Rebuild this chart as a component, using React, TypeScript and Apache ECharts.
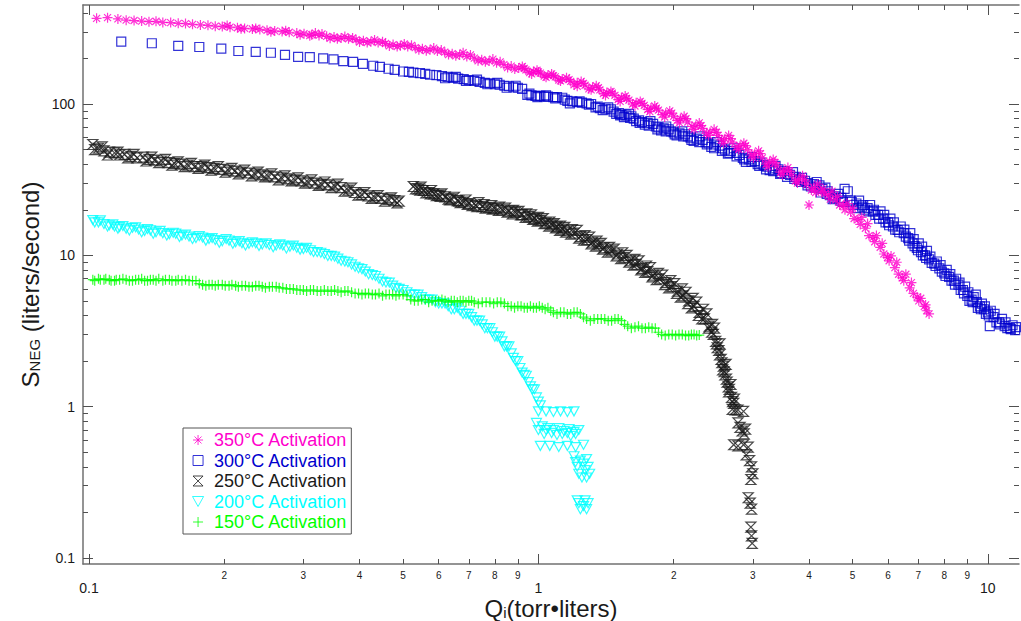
import React, { useEffect, useRef } from 'react';
import * as echarts from 'echarts';

const X_MIN = 0.097;
const X_MAX = 11.73;
const Y_MIN = 0.0912;
const Y_MAX = 451;

const xMajorTicks = [0.1, 1, 10];
const xMinorTicks = [0.2, 0.3, 0.4, 0.5, 0.6, 0.7, 0.8, 0.9, 2, 3, 4, 5, 6, 7, 8, 9];
const yMajorTicks = [0.1, 1, 10, 100];
const yMinorTicks = [0.2, 0.3, 0.4, 0.5, 0.6, 0.7, 0.8, 0.9, 2, 3, 4, 5, 6, 7, 8, 9, 20, 30, 40, 50, 60, 70, 80, 90, 200, 300, 400];

const seriesNames = ['350°C Activation', '300°C Activation', '250°C Activation', '200°C Activation', '150°C Activation'];
const seriesColors = ['#FF00CC', '#0000CD', '#1a1a1a', '#00FFFF', '#00FF00'];

const s350: [number, number][] = [
  [0.104, 368], [0.110, 372], [0.116, 365], [0.121, 358], [0.126, 356], [0.131, 353], [0.136, 350], [0.141, 352], [0.146, 346], [0.152, 345],
  [0.158, 341], [0.164, 340], [0.170, 336], [0.177, 333], [0.184, 331], [0.191, 327], [0.198, 325], [0.206, 322], [0.214, 319], [0.222, 316],
  [0.231, 313], [0.240, 311], [0.249, 307], [0.259, 304], [0.269, 301], [0.279, 298], [0.290, 294], [0.301, 291], [0.313, 287], [0.325, 284],
  [0.338, 280], [0.351, 277], [0.364, 273], [0.378, 270], [0.393, 266], [0.408, 262], [0.424, 258], [0.440, 255], [0.457, 251], [0.475, 247],
  [0.493, 243], [0.512, 240], [0.532, 236], [0.552, 232], [0.574, 228], [0.596, 224], [0.619, 220], [0.643, 215], [0.668, 211], [0.693, 206],
  [0.720, 201], [0.748, 196], [0.777, 192], [0.807, 187], [0.838, 182], [0.870, 178], [0.904, 173], [0.938, 168], [0.975, 164], [1.01, 160],
  [1.05, 155], [1.09, 151], [1.13, 146], [1.18, 141], [1.22, 138], [1.27, 133], [1.32, 129], [1.37, 124], [1.42, 119], [1.48, 114],
  [1.53, 110], [1.59, 106], [1.65, 102], [1.72, 98], [1.78, 94], [1.85, 91], [1.92, 87], [2.00, 83], [2.07, 80], [2.15, 76],
  [2.24, 72], [2.32, 69], [2.41, 65], [2.51, 62], [2.60, 59], [2.70, 56], [2.81, 53], [2.92, 50], [3.03, 47], [3.15, 44],
  [3.27, 41.5], [3.39, 39], [3.52, 36.5], [3.66, 34], [3.80, 32], [3.95, 29.5], [4.00, 21.5], [4.10, 28], [4.26, 26.5], [4.42, 25],
  [4.59, 23.2], [4.77, 21.3], [4.95, 19.3], [5.14, 17.2], [5.34, 15.1], [5.55, 13.1], [5.76, 11.3], [5.98, 9.7], [6.21, 8.3], [6.45, 7.1],
  [6.70, 6.1], [6.96, 5.3], [7.22, 4.6], [7.40, 4.1],
  [0.203, 330], [0.218, 314], [0.235, 316], [0.254, 300], [0.274, 305], [0.295, 287], [0.319, 294], [0.344, 272], [0.371, 279], [0.400, 257],
  [0.432, 265], [0.466, 242], [0.503, 249], [0.542, 228], [0.585, 234], [0.631, 212], [0.680, 218], [0.734, 193], [0.792, 198], [0.854, 174],
  [0.921, 177], [0.956, 161], [0.993, 167], [1.03, 153], [1.07, 158], [1.11, 144], [1.155, 149], [1.20, 134], [1.245, 141], [1.295, 126],
  [1.345, 132], [1.395, 117], [1.45, 121], [1.505, 107], [1.56, 113], [1.62, 100], [1.685, 104], [1.75, 92], [1.815, 97], [1.885, 85],
  [1.96, 90], [2.035, 78], [2.11, 83], [2.195, 71], [2.28, 75], [2.365, 64], [2.46, 68], [2.555, 58], [2.65, 62], [2.755, 52],
  [2.865, 55], [2.975, 46], [3.09, 49], [3.21, 40], [3.33, 43], [3.455, 35.5], [3.59, 38], [3.73, 31], [3.87, 33.5], [4.05, 27],
  [4.18, 29.5], [4.34, 25.5], [4.50, 26.5], [4.68, 21.5], [4.86, 22], [5.04, 17.5], [5.24, 17.8], [5.44, 13.5], [5.65, 13.5], [5.87, 10.2],
  [6.09, 9.9], [6.33, 7.5], [6.57, 7.5], [6.83, 5.6], [7.09, 5.2], [7.31, 4.3],
  [0.310, 283], [0.330, 290], [0.357, 270], [0.386, 273], [0.416, 255], [0.450, 258], [0.485, 240], [0.522, 244], [0.563, 225], [0.608, 227],
  [0.655, 208], [0.706, 211], [0.762, 190], [0.822, 190], [0.886, 170], [0.930, 172], [0.966, 158], [1.00, 163], [1.04, 150], [1.08, 154],
  [1.12, 142], [1.17, 145], [1.22, 131], [1.26, 137], [1.31, 124], [1.36, 128], [1.41, 114], [1.46, 118], [1.52, 104], [1.57, 109],
  [1.64, 97], [1.70, 101], [1.77, 89], [1.83, 94], [1.91, 82], [1.98, 87], [2.06, 75], [2.13, 80], [2.22, 68], [2.30, 72],
  [2.39, 62], [2.49, 65], [2.58, 55], [2.68, 59], [2.79, 50], [2.89, 53], [3.01, 44], [3.12, 47], [3.24, 38.5], [3.36, 41],
  [3.49, 34], [3.62, 36], [3.77, 30], [3.91, 31.5], [4.14, 26], [4.30, 27.5], [4.46, 23.5], [4.63, 24.5], [4.81, 20], [5.00, 20.5],
  [5.20, 16], [5.40, 16.2], [5.60, 12.3], [5.82, 12], [6.03, 9.2], [6.27, 9.0], [6.50, 6.8], [6.76, 6.6], [7.02, 5.0], [7.27, 4.7],
];

const s300: [number, number][] = [
  [0.118, 258], [0.138, 252], [0.158, 242], [0.176, 238], [0.197, 232], [0.215, 224], [0.235, 221], [0.254, 218], [0.273, 211], [0.292, 205],
  [0.310, 204], [0.332, 200], [0.350, 197], [0.368, 192], [0.387, 190], [0.407, 184], [0.429, 179], [0.444, 176], [0.464, 171], [0.479, 168],
  [0.500, 164], [0.515, 163], [0.527, 161], [0.545, 160], [0.560, 158], [0.574, 156], [0.593, 155], [0.610, 153], [0.628, 151], [0.645, 149],
  [0.663, 147], [0.682, 146], [0.700, 144], [0.720, 142], [0.740, 140], [0.760, 138], [0.780, 137], [0.800, 135], [0.820, 134], [0.840, 132],
  [0.860, 131], [0.880, 129], [0.900, 128], [0.920, 126], [0.945, 115], [0.965, 114], [0.985, 113], [1.01, 113], [1.03, 112], [1.05, 112],
  [1.08, 111], [1.10, 111], [1.13, 110], [1.16, 105], [1.19, 104], [1.22, 103], [1.25, 102], [1.28, 101], [1.31, 100], [1.34, 95],
  [1.37, 94], [1.41, 93], [1.45, 92], [1.49, 86], [1.53, 85], [1.57, 84], [1.61, 83], [1.65, 77], [1.70, 76], [1.75, 75],
  [1.80, 74], [1.85, 70], [1.90, 69], [1.95, 68], [2.00, 65], [2.06, 64], [2.12, 63], [2.18, 60], [2.25, 59], [2.32, 58],
  [2.39, 55], [2.46, 54], [2.53, 53], [2.60, 50], [2.68, 49], [2.76, 47.5], [2.85, 44], [2.94, 43], [3.03, 42], [3.12, 41],
  [3.22, 38.5], [3.32, 37.5], [3.42, 37], [3.52, 36], [3.63, 34], [3.74, 33], [3.86, 32.5], [3.98, 30], [4.10, 29.5], [4.22, 29],
  [4.35, 28], [4.45, 25], [4.58, 24.5], [4.72, 24], [4.80, 27.5], [4.88, 26.5], [4.95, 23], [5.10, 22], [5.25, 21], [5.40, 20.5],
  [5.55, 19.5], [5.70, 18.5], [5.85, 17.5], [6.00, 16.5], [6.15, 15.5], [6.30, 14.7], [6.50, 14], [6.65, 13], [6.80, 12], [6.95, 11.2],
  [7.10, 10.5], [7.25, 10], [7.40, 9.4], [7.60, 8.8], [7.80, 8.2], [8.00, 7.6], [8.20, 7.2], [8.40, 6.8], [8.60, 6.4], [8.80, 5.9],
  [9.00, 5.4], [9.20, 5.1], [9.40, 5.5], [9.60, 4.6], [9.80, 4.4], [10.0, 4.2], [10.1, 3.4], [10.3, 3.9], [10.6, 3.6], [10.9, 3.4],
  [11.2, 3.3], [11.5, 3.2],
  [0.620, 148], [0.655, 151], [0.690, 142], [0.730, 145], [0.770, 135], [0.810, 138], [0.850, 128], [0.890, 132], [0.955, 117], [0.995, 111],
  [1.04, 114], [1.09, 109], [1.145, 107], [1.175, 101], [1.235, 104], [1.295, 99], [1.355, 96], [1.39, 91], [1.43, 95], [1.47, 89],
  [1.51, 87], [1.55, 82], [1.59, 86], [1.63, 80], [1.675, 78], [1.725, 73], [1.775, 77], [1.825, 71], [1.875, 67], [1.925, 71],
  [1.975, 66], [2.03, 62], [2.09, 66], [2.15, 61], [2.215, 57], [2.285, 61], [2.355, 56], [2.425, 52], [2.495, 56], [2.565, 51],
  [2.64, 47], [2.72, 51], [2.80, 46], [2.895, 41.5], [2.985, 44.5], [3.075, 40], [3.17, 39.5], [3.27, 36.5], [3.37, 39], [3.47, 35],
  [3.575, 33], [3.685, 35.5], [3.80, 31.5], [3.92, 31], [4.04, 28.5], [4.16, 30.5], [4.285, 27.5], [4.40, 26.5], [4.515, 23.5], [4.65, 25.5],
  [4.76, 22.5], [5.02, 21.5], [5.17, 23], [5.32, 20], [5.47, 21.5], [5.62, 18.5], [5.77, 19.5], [5.92, 16.5], [6.07, 17.5], [6.22, 14.8],
  [6.40, 15.5], [6.57, 13.3], [6.72, 14], [6.87, 11.5], [7.02, 12], [7.17, 10], [7.32, 10.7], [7.50, 8.9], [7.70, 9.1], [7.90, 7.8],
  [8.10, 8.0], [8.30, 6.8], [8.50, 7.0], [8.70, 5.9], [8.90, 6.2], [9.10, 5.0], [9.30, 5.3], [9.50, 4.5], [9.70, 4.8], [9.90, 4.1],
  [10.15, 4.3], [10.45, 3.6], [10.75, 3.8], [11.05, 3.3], [11.35, 3.45],
  [1.52, 84], [1.60, 81], [1.68, 75], [1.76, 72], [1.84, 68], [1.92, 66], [2.01, 63], [2.10, 61], [2.19, 58], [2.28, 56],
  [2.37, 54], [2.46, 51], [2.56, 49], [2.66, 47.5], [2.76, 45], [2.87, 43], [2.98, 41.5], [3.10, 39], [3.21, 37], [3.33, 36],
  [3.45, 34.5], [3.58, 34.5], [3.71, 32], [3.84, 30.5], [3.97, 29], [4.12, 28], [4.25, 26], [4.38, 25.5], [4.55, 24], [4.70, 23],
  [4.98, 22.5], [5.13, 20.5], [5.28, 21.5], [5.43, 19.5], [5.58, 20], [5.73, 17.5], [5.88, 18.5], [6.03, 15.8], [6.18, 16.5], [6.35, 14.2],
  [6.52, 14.8], [6.68, 12.5], [6.84, 12.8], [6.99, 10.8], [7.14, 11.4], [7.29, 9.6], [7.45, 9.8], [7.65, 8.5], [7.85, 8.6], [8.05, 7.3],
  [8.25, 7.5], [8.45, 6.4], [8.65, 6.6], [8.85, 5.6], [9.05, 5.7], [9.25, 4.9], [9.45, 4.9], [9.65, 4.4], [9.85, 4.6], [10.05, 4.0],
  [10.35, 4.1], [10.65, 3.5], [10.95, 3.6], [11.25, 3.25], [11.55, 3.35],
];

const s250: [number, number][] = [
  [0.102, 54], [0.105, 51], [0.108, 49], [0.111, 48], [0.114, 47.5], [0.117, 46], [0.120, 46.5], [0.124, 45], [0.128, 44], [0.132, 44.5],
  [0.136, 43], [0.140, 42.5], [0.145, 42], [0.150, 41], [0.155, 40.5], [0.160, 40], [0.166, 39.5], [0.172, 38.5], [0.178, 38.5], [0.184, 38],
  [0.190, 37.5], [0.197, 37], [0.204, 36.5], [0.211, 36], [0.218, 35.5], [0.226, 35], [0.234, 34.5], [0.242, 34], [0.250, 33.5], [0.259, 33],
  [0.268, 32.5], [0.277, 32], [0.287, 31.5], [0.297, 31], [0.307, 30.5], [0.318, 30], [0.329, 29.5], [0.340, 29.2], [0.352, 28.7], [0.364, 28],
  [0.377, 27], [0.390, 26], [0.404, 25.3], [0.418, 24.7], [0.432, 24.2], [0.447, 23.8], [0.463, 23.4], [0.479, 23], [0.490, 22.8],
  [0.527, 28.5], [0.540, 27.5], [0.555, 26.8], [0.570, 26], [0.585, 25.5], [0.600, 25], [0.620, 24.3], [0.640, 23.6], [0.660, 23], [0.680, 22.5],
  [0.700, 22], [0.725, 21.5], [0.750, 21], [0.775, 20.7], [0.800, 20.4], [0.830, 20], [0.860, 19.6], [0.890, 19.2], [0.920, 18.6], [0.950, 18],
  [0.980, 17.5], [1.01, 17], [1.04, 16.4], [1.07, 15.9], [1.10, 15.4], [1.13, 14.9], [1.16, 14.5], [1.20, 14], [1.24, 13.3], [1.28, 12.7],
  [1.32, 12.2], [1.36, 11.7], [1.40, 11.2], [1.45, 10.7], [1.50, 10.2], [1.55, 9.7], [1.60, 9.2], [1.65, 8.7], [1.70, 8.2], [1.75, 7.8],
  [1.80, 7.4], [1.86, 7.0], [1.92, 6.6], [1.98, 6.2], [2.04, 5.8], [2.10, 5.4], [2.16, 5.0], [2.22, 4.6], [2.28, 4.2], [2.34, 3.8],
  [2.40, 3.4], [2.45, 3.0], [2.48, 2.7], [2.52, 2.35], [2.55, 2.05], [2.58, 1.85], [2.60, 1.62], [2.63, 1.45], [2.66, 1.3], [2.69, 1.15],
  [2.72, 1.05], [2.74, 0.95], [2.70, 0.96], [2.78, 0.95], [2.86, 0.93], [2.78, 0.78], [2.81, 0.73], [2.84, 0.69], [2.87, 0.66], [2.89, 0.71],
  [2.72, 0.56], [2.78, 0.55], [2.86, 0.56], [2.93, 0.54], [2.90, 0.48], [2.95, 0.44], [2.98, 0.40], [3.00, 0.36], [2.97, 0.33], [2.93, 0.25],
  [2.96, 0.23], [2.98, 0.21], [2.97, 0.16], [2.98, 0.14], [2.99, 0.125],
  [0.103, 50], [0.107, 52], [0.110, 46], [0.116, 48], [0.122, 44], [0.126, 46.5], [0.134, 42], [0.138, 44.5], [0.143, 41], [0.148, 43],
  [0.153, 39.5], [0.158, 41.5], [0.163, 38.5], [0.169, 40.5], [0.175, 37.5], [0.181, 39.5], [0.187, 36.5], [0.194, 38.5], [0.201, 35.5], [0.208, 37.5],
  [0.215, 34.5], [0.222, 36.5], [0.230, 33.5], [0.238, 35.5], [0.246, 33], [0.255, 34.5], [0.264, 31.5], [0.273, 33.5], [0.282, 31], [0.292, 32.5],
  [0.302, 30], [0.313, 31.5], [0.324, 29], [0.335, 30.5], [0.346, 28], [0.358, 29.5], [0.370, 26.5], [0.384, 27.8], [0.397, 25], [0.411, 26],
  [0.425, 23.8], [0.440, 24.8], [0.455, 22.8], [0.471, 24], [0.485, 22.2],
  [0.533, 27.5], [0.548, 28.2], [0.562, 25.8], [0.578, 26.8], [0.593, 24.8], [0.610, 25.5], [0.630, 23.5], [0.650, 24.2], [0.670, 22.3], [0.690, 23.2],
  [0.712, 21.3], [0.737, 22.3], [0.762, 20.5], [0.787, 21.3], [0.815, 19.8], [0.845, 20.5], [0.875, 18.8], [0.905, 19.5], [0.935, 17.8], [0.965, 18.5],
  [0.995, 16.8], [1.025, 17.5], [1.055, 15.6], [1.085, 16.2], [1.115, 14.6], [1.145, 15.3], [1.18, 13.8], [1.22, 14.6], [1.26, 12.6], [1.30, 13.2],
  [1.34, 11.5], [1.38, 12.0], [1.425, 10.5], [1.475, 11.0], [1.525, 9.5], [1.575, 10.0], [1.625, 8.6], [1.675, 9.2], [1.725, 7.7], [1.775, 8.3],
  [1.83, 6.9], [1.89, 7.4], [1.95, 6.1], [2.01, 6.5], [2.07, 5.3], [2.13, 5.7], [2.19, 4.5], [2.25, 4.9], [2.31, 3.8], [2.37, 4.1],
  [2.43, 3.1], [2.465, 3.3], [2.50, 2.45], [2.535, 2.6], [2.57, 1.75], [2.615, 1.9], [2.645, 1.35], [2.68, 1.4], [2.705, 1.08], [2.73, 1.12],
  [0.545, 27], [0.575, 25.5], [0.605, 24.5], [0.635, 23.2], [0.665, 22.8], [0.695, 21.7], [0.730, 21], [0.757, 21.6], [0.790, 20.2], [0.820, 20.8],
  [0.852, 19.3], [0.880, 19.8], [0.913, 18.5], [0.942, 18.8], [0.972, 17.3], [1.00, 17.8], [1.03, 16.2], [1.06, 16.6], [1.092, 15.2], [1.12, 15.6],
  [1.15, 14.2], [1.19, 14.8], [1.23, 13.0], [1.27, 13.5], [1.31, 11.9], [1.35, 12.4], [1.39, 11.0], [1.44, 11.3], [1.49, 9.9], [1.54, 10.4],
  [1.59, 9.0], [1.64, 9.4], [1.69, 8.0], [1.74, 8.5], [1.79, 7.2], [1.85, 7.6], [1.91, 6.4], [1.97, 6.8], [2.03, 5.6], [2.09, 6.0],
  [2.15, 4.8], [2.21, 5.2], [2.27, 4.0], [2.33, 4.4], [2.39, 3.3], [2.44, 3.5], [2.49, 2.6], [2.53, 2.2], [2.56, 1.95], [2.59, 1.7],
  [2.62, 1.52], [2.65, 1.25],
];

const s200: [number, number][] = [
  [0.102, 17.1], [0.105, 16.5], [0.108, 16.1], [0.111, 15.8], [0.114, 15.5], [0.117, 15.4], [0.121, 15.0], [0.125, 15.2], [0.129, 14.8], [0.133, 14.5],
  [0.137, 14.6], [0.141, 14.2], [0.146, 14.0], [0.151, 13.8], [0.156, 13.9], [0.161, 13.5], [0.167, 13.3], [0.173, 13.0], [0.179, 13.1], [0.185, 12.8],
  [0.191, 12.6], [0.198, 12.4], [0.205, 12.5], [0.212, 12.2], [0.219, 12.0], [0.227, 11.9], [0.235, 12.0], [0.243, 11.8], [0.252, 11.7], [0.261, 11.6],
  [0.270, 11.6], [0.280, 11.4], [0.290, 11.2], [0.300, 11.0], [0.311, 10.8], [0.322, 10.5], [0.334, 10.2], [0.346, 9.9], [0.358, 9.5], [0.371, 9.1],
  [0.384, 8.7], [0.398, 8.2], [0.412, 7.8], [0.427, 7.4], [0.442, 7.0], [0.458, 6.6], [0.474, 6.3], [0.490, 6.0], [0.510, 5.7], [0.530, 5.5],
  [0.550, 5.3], [0.570, 5.1], [0.590, 4.9], [0.610, 4.8], [0.630, 4.6], [0.650, 4.4], [0.670, 4.3], [0.690, 4.1], [0.710, 3.9], [0.730, 3.7],
  [0.750, 3.5], [0.770, 3.3], [0.790, 3.1], [0.810, 2.9], [0.830, 2.7], [0.850, 2.5], [0.870, 2.25], [0.890, 2.0], [0.910, 1.8], [0.930, 1.62],
  [0.950, 1.45], [0.970, 1.3], [0.990, 1.15], [1.01, 1.02], [1.00, 0.93], [1.04, 0.93], [1.08, 0.92], [1.12, 0.93], [1.16, 0.92], [1.20, 0.93],
  [0.99, 0.78], [1.02, 0.74], [1.05, 0.72], [1.08, 0.70], [1.11, 0.72], [1.14, 0.69], [1.17, 0.71], [1.20, 0.68], [1.23, 0.70], [1.03, 0.66],
  [1.10, 0.65], [1.18, 0.64], [1.01, 0.55], [1.06, 0.55], [1.11, 0.54], [1.16, 0.55], [1.21, 0.54], [1.26, 0.56], [1.20, 0.47], [1.24, 0.44],
  [1.28, 0.45], [1.22, 0.40], [1.27, 0.38], [1.30, 0.36], [1.25, 0.34], [1.22, 0.24], [1.26, 0.22], [1.29, 0.23], [1.24, 0.21],
  [0.103, 16.5], [0.106, 17.0], [0.110, 15.5], [0.113, 16.0], [0.116, 15.0], [0.119, 15.6], [0.123, 14.6], [0.127, 15.3], [0.131, 14.2], [0.135, 14.9],
  [0.139, 13.9], [0.144, 14.5], [0.149, 13.5], [0.154, 14.1], [0.159, 13.2], [0.164, 13.7], [0.170, 12.8], [0.176, 13.4], [0.182, 12.5], [0.188, 13.0],
  [0.195, 12.1], [0.202, 12.8], [0.209, 11.9], [0.216, 12.4], [0.223, 11.6], [0.231, 12.2], [0.239, 11.5], [0.248, 12.0], [0.257, 11.3], [0.266, 11.8],
  [0.275, 11.1], [0.285, 11.6], [0.295, 10.9], [0.305, 11.2], [0.316, 10.5], [0.328, 10.4], [0.340, 9.9], [0.352, 9.8], [0.364, 9.2], [0.377, 9.0],
  [0.391, 8.4], [0.405, 8.1], [0.419, 7.5], [0.434, 7.3], [0.450, 6.7], [0.466, 6.6], [0.482, 6.1], [0.500, 5.9], [0.520, 5.5], [0.540, 5.5],
  [0.560, 5.1], [0.580, 5.1], [0.600, 4.8], [0.620, 4.8], [0.640, 4.4], [0.660, 4.5], [0.680, 4.1], [0.700, 4.1], [0.720, 3.7], [0.740, 3.7],
  [0.760, 3.3], [0.780, 3.3], [0.800, 2.9], [0.820, 2.9], [0.840, 2.5], [0.860, 2.5], [0.880, 2.1], [0.900, 2.0], [0.920, 1.68], [0.940, 1.6],
  [0.960, 1.36], [0.980, 1.3], [1.00, 1.08], [1.00, 0.70], [1.04, 0.70], [1.07, 0.67], [1.13, 0.66], [1.16, 0.67], [1.21, 0.66], [1.21, 0.43],
  [1.26, 0.42], [1.29, 0.40], [1.23, 0.36], [1.28, 0.34], [1.23, 0.23], [1.27, 0.24], [1.28, 0.21],
];

const s150: [number, number][] = [
  [0.102, 6.9], [0.105, 7.0], [0.108, 6.9], [0.111, 6.9], [0.114, 6.8], [0.117, 6.9], [0.121, 6.9], [0.125, 6.8], [0.129, 6.9], [0.133, 6.8],
  [0.137, 6.9], [0.141, 6.8], [0.146, 6.8], [0.151, 6.9], [0.156, 6.8], [0.161, 6.8], [0.167, 6.8], [0.173, 6.8], [0.179, 6.4], [0.185, 6.4],
  [0.191, 6.3], [0.198, 6.4], [0.205, 6.3], [0.212, 6.3], [0.219, 6.3], [0.227, 6.2], [0.235, 6.3], [0.243, 6.2], [0.252, 6.2], [0.261, 6.2],
  [0.270, 6.1], [0.280, 6.0], [0.290, 5.9], [0.300, 5.9], [0.311, 5.9], [0.322, 5.8], [0.334, 5.9], [0.346, 5.8], [0.358, 5.8], [0.371, 5.8],
  [0.384, 5.7], [0.398, 5.6], [0.412, 5.6], [0.427, 5.5], [0.442, 5.6], [0.458, 5.5], [0.474, 5.5], [0.490, 5.5], [0.510, 5.4], [0.520, 5.1],
  [0.540, 5.0], [0.560, 5.1], [0.580, 5.0], [0.600, 5.0], [0.620, 5.0], [0.640, 5.0], [0.660, 4.9], [0.680, 5.0], [0.700, 5.0], [0.720, 4.9],
  [0.750, 4.9], [0.780, 4.9], [0.810, 4.9], [0.840, 4.8], [0.870, 4.6], [0.900, 4.6], [0.930, 4.5], [0.960, 4.6], [0.990, 4.5], [1.02, 4.5],
  [1.05, 4.5], [1.08, 4.2], [1.12, 4.2], [1.16, 4.1], [1.20, 4.2], [1.24, 4.1], [1.28, 3.8], [1.33, 3.8], [1.38, 3.8], [1.43, 3.7],
  [1.48, 3.8], [1.53, 3.7], [1.58, 3.4], [1.64, 3.35], [1.70, 3.3], [1.76, 3.35], [1.82, 3.3], [1.88, 3.0], [1.95, 3.0], [2.02, 2.95],
  [2.09, 3.0], [2.16, 2.95], [2.22, 3.0], [2.28, 2.97],
  [0.103, 6.8], [0.106, 6.9], [0.109, 7.0], [0.112, 6.8], [0.115, 6.9], [0.119, 7.0], [0.123, 6.8], [0.127, 6.9], [0.131, 7.0], [0.135, 6.8],
  [0.139, 6.9], [0.143, 7.0], [0.148, 6.9], [0.153, 6.8], [0.158, 6.9], [0.164, 6.9], [0.170, 6.8], [0.176, 6.5], [0.182, 6.3], [0.188, 6.4],
  [0.194, 6.4], [0.201, 6.3], [0.208, 6.4], [0.215, 6.2], [0.223, 6.3], [0.231, 6.2], [0.239, 6.3], [0.247, 6.1], [0.256, 6.2], [0.265, 6.1],
  [0.275, 6.0], [0.285, 6.0], [0.295, 5.9], [0.305, 5.8], [0.316, 5.9], [0.328, 5.8], [0.340, 5.8], [0.352, 5.9], [0.364, 5.7], [0.377, 5.8],
  [0.391, 5.6], [0.405, 5.5], [0.419, 5.6], [0.434, 5.5], [0.450, 5.4], [0.466, 5.5], [0.482, 5.4], [0.500, 5.5], [0.530, 5.0], [0.550, 5.1],
  [0.570, 4.9], [0.590, 5.0], [0.610, 5.1], [0.630, 4.9], [0.650, 5.0], [0.670, 5.0], [0.690, 4.9], [0.710, 5.0], [0.735, 4.8], [0.765, 4.9],
  [0.795, 4.8], [0.825, 4.9], [0.855, 4.6], [0.885, 4.5], [0.915, 4.6], [0.945, 4.5], [0.975, 4.5], [1.005, 4.6], [1.035, 4.4], [1.065, 4.3],
  [1.10, 4.1], [1.14, 4.2], [1.18, 4.1], [1.22, 4.2], [1.26, 3.9], [1.305, 3.7], [1.355, 3.8], [1.405, 3.8], [1.455, 3.7], [1.505, 3.8],
  [1.555, 3.5], [1.61, 3.3], [1.67, 3.4], [1.73, 3.3], [1.79, 3.3], [1.85, 3.1], [1.915, 2.95], [1.985, 3.0], [2.055, 3.0], [2.125, 2.95],
  [2.19, 3.0], [2.25, 2.95],
];

const FONT = '"Liberation Sans", Arial, Helvetica, sans-serif';

const SYM_STAR = 'path://M5,0L5,10M0,5L10,5M1.5,1.5L8.5,8.5M8.5,1.5L1.5,8.5';
const SYM_SQUARE = 'path://M0,0L10,0L10,10L0,10Z';
const SYM_HOURGLASS = 'path://M0,0L10,0L0,10L10,10Z';
const SYM_TRIANGLE = 'path://M0,0L10,0L5,9Z';
const SYM_PLUS = 'path://M5,0L5,10M0,5L10,5';

const symbols = [SYM_STAR, SYM_SQUARE, SYM_HOURGLASS, SYM_TRIANGLE, SYM_PLUS];
const symbolSizes = [10, 9, 10, 10, 10];
const seriesData = [s350, s300, s250, s200, s150];

const axisLineStyle = { color: '#707070', width: 1.5 };
const tickLineStyle = { color: '#505050', width: 1 };

function makeAxis(kind: 'x' | 'y', position: string, ticks: number[], len: number, showLine: boolean, label: any, extra: any = {}) {
  return {
    type: 'log',
    gridIndex: 0,
    position,
    min: kind === 'x' ? X_MIN : Y_MIN,
    max: kind === 'x' ? X_MAX : Y_MAX,
    axisLine: { show: showLine, onZero: false, lineStyle: axisLineStyle },
    axisTick: { show: true, inside: true, length: len, customValues: ticks, lineStyle: tickLineStyle },
    axisLabel: label ? { show: true, customValues: ticks, ...label } : { show: false },
    splitLine: { show: false },
    minorTick: { show: false },
    minorSplitLine: { show: false },
    ...extra,
  };
}

const fmtMajor = (v: number) => (v < 1 ? String(Math.round(v * 10) / 10) : String(Math.round(v)));
const fmtMinor = (v: number) => String(Math.round(v < 1 ? v * 10 : v));

const nameRich = {
  m: { fontSize: 24, fontFamily: FONT, color: '#1a1a1a', lineHeight: 24 },
  s: { fontSize: 15, fontFamily: FONT, color: '#1a1a1a', lineHeight: 14, verticalAlign: 'bottom' },
};

function buildOption() {
  const series = [1, 0, 2, 3, 4].map((i) => ({
    type: 'scatter',
    name: seriesNames[i],
    data: seriesData[i],
    xAxisIndex: 0,
    yAxisIndex: 0,
    symbol: symbols[i],
    symbolSize: symbolSizes[i],
    symbolKeepAspect: true,
    silent: true,
    itemStyle: { color: 'rgba(0,0,0,0)', borderColor: seriesColors[i], borderWidth: 1.2 },
    emphasis: { disabled: true },
  }));

  return {
    animation: false,
    backgroundColor: '#ffffff',
    textStyle: { fontFamily: FONT },
    grid: { left: 83, right: 2, top: 5, bottom: 57, containLabel: false, outerBoundsMode: 'none' },
    xAxis: [
      makeAxis('x', 'bottom', xMajorTicks, 10, true,
        { formatter: fmtMajor, fontSize: 14, lineHeight: 14, color: '#1a1a1a', fontFamily: FONT, margin: 17 },
        {
          name: '{m|Q}{s|i}{m|(torr•liters)}',
          nameLocation: 'middle',
          nameGap: 32,
          nameMoveOverlap: false,
          nameTextStyle: { fontFamily: FONT, color: '#1a1a1a', rich: nameRich },
        }),
      makeAxis('x', 'bottom', xMinorTicks, 5, false,
        { formatter: fmtMinor, fontSize: 10, color: '#1a1a1a', fontFamily: FONT, margin: 6 }),
      makeAxis('x', 'top', xMajorTicks, 10, true, null),
      makeAxis('x', 'top', xMinorTicks, 5, false, null),
    ],
    yAxis: [
      makeAxis('y', 'left', yMajorTicks, 10, true,
        { formatter: fmtMajor, fontSize: 14, color: '#1a1a1a', fontFamily: FONT, margin: 8 },
        {
          name: '{m|S}{s|NEG}{m| (liters/second)}',
          nameLocation: 'middle',
          nameGap: 41,
          nameMoveOverlap: false,
          nameTextStyle: { fontFamily: FONT, color: '#1a1a1a', rich: nameRich },
        }),
      makeAxis('y', 'left', yMinorTicks, 5, false, null),
      makeAxis('y', 'right', yMajorTicks, 10, false, null),
      makeAxis('y', 'right', yMinorTicks, 5, false, null),
    ],
    legend: {
      orient: 'vertical',
      left: 183,
      top: 428,
      padding: [3, 4, 3, 9],
      itemWidth: 22,
      itemHeight: 10,
      itemGap: 2.5,
      borderColor: '#555555',
      borderWidth: 1,
      backgroundColor: '#ffffff',
      selectedMode: false,
      textStyle: { fontFamily: FONT, fontSize: 18 },
      data: seriesNames.map((n, i) => ({
        name: n,
        icon: symbols[i],
        itemStyle: { color: 'rgba(0,0,0,0)', borderColor: seriesColors[i], borderWidth: 1 },
        textStyle: { color: seriesColors[i], fontFamily: FONT, fontSize: 18 },
      })),
    },
    series,
  };
}

export default function App() {
  const ref = useRef<HTMLDivElement>(null);
  useEffect(() => {
    if (!ref.current) return;
    const chart = echarts.init(ref.current, null, { renderer: 'svg' });
    chart.setOption(buildOption() as any);
    return () => {
      chart.dispose();
    };
  }, []);
  return (
    <div
      ref={ref}
      style={{ position: 'fixed', left: 0, top: 0, width: 1021, height: 621, background: '#ffffff' }}
    />
  );
}
